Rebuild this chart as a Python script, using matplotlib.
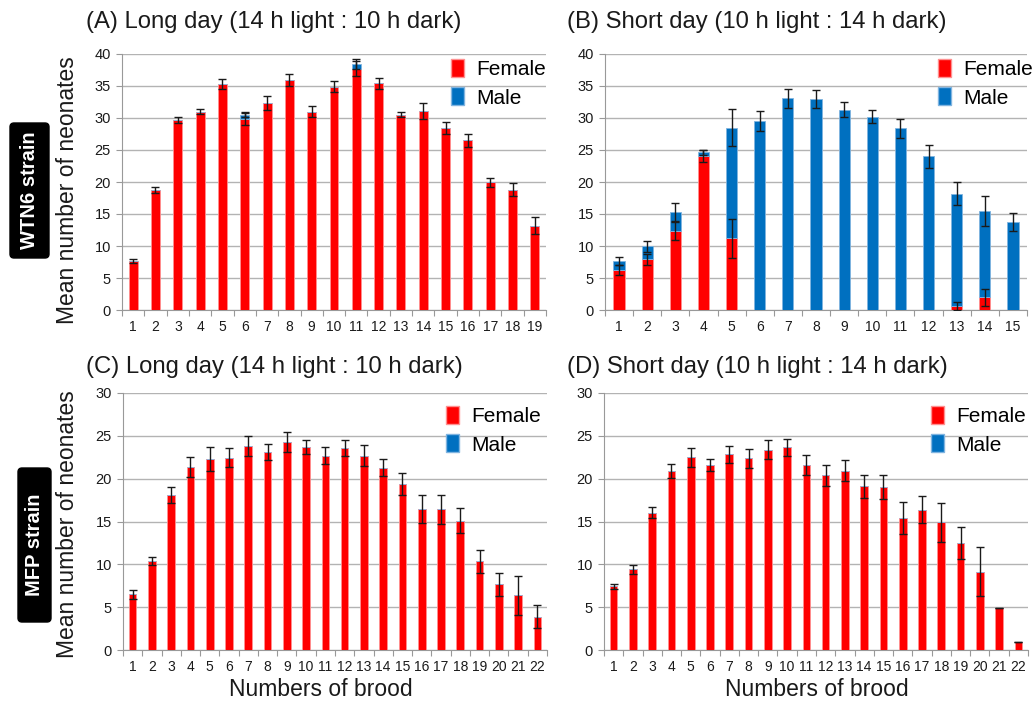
import matplotlib
matplotlib.use('Agg')
import matplotlib.pyplot as plt
import numpy as np
from matplotlib.patches import Patch, FancyBboxPatch

plt.rcParams['font.family'] = ['Liberation Sans', 'DejaVu Sans']

RED = '#FF0000'
BLUE = '#0070C0'
GRID = '#B3B3B3'

# ---------------- data ----------------
# (A) WTN6, long day
a_female = [7.7, 18.75, 29.7, 31.0, 35.3, 29.9, 32.4, 35.9, 31.0, 34.9,
            37.7, 35.4, 30.5, 31.1, 28.4, 26.5, 19.95, 18.8, 13.2]
a_female_err = [0.3, 0.45, 0.5, 0.4, 0.75, 1.0, 1.1, 0.9, 0.8, 0.9,
                1.2, 0.85, 0.4, 1.3, 0.9, 1.0, 0.7, 1.0, 1.4]
a_male = [0, 0, 0, 0, 0, 0.6, 0, 0, 0, 0,
          0.7, 0, 0, 0, 0, 0, 0, 0, 0]
a_male_err = [0, 0, 0, 0, 0, 0.3, 0, 0, 0, 0,
              0.8, 0, 0, 0, 0, 0, 0, 0, 0]

# (B) WTN6, short day
b_female = [6.2, 7.9, 12.35, 24.0, 11.2, 0, 0, 0, 0, 0, 0, 0, 0.6, 2.0, 0]
b_female_err = [0.8, 0.9, 1.4, 0.95, 3.05, 0, 0, 0, 0, 0, 0, 0, 0.6, 1.3, 0]
b_male = [1.45, 2.05, 2.9, 0.65, 17.3, 29.5, 33.1, 32.95, 31.3, 30.2,
          28.4, 24.0, 17.6, 13.5, 13.7]
b_male_err = [0.65, 0.9, 1.4, 0.4, 2.85, 1.6, 1.5, 1.4, 1.2, 1.05,
              1.5, 1.75, 1.75, 2.35, 1.4]

# (C) MFP, long day
c_female = [6.5, 10.4, 18.1, 21.35, 22.3, 22.45, 23.8, 23.1, 24.3, 23.7, 22.7,
            23.6, 22.7, 21.3, 19.4, 16.45, 16.45, 15.1, 10.35, 7.65, 6.37, 3.9]
c_female_err = [0.5, 0.5, 0.9, 1.2, 1.35, 1.1, 1.15, 0.9, 1.2, 0.85, 0.95,
                0.9, 1.2, 1.0, 1.25, 1.6, 1.7, 1.45, 1.35, 1.35, 2.25, 1.35]
c_male = [0] * 22
c_male_err = [0] * 22

# (D) MFP, short day
d_female = [7.45, 9.4, 16.05, 20.9, 22.5, 21.6, 22.85, 22.4, 23.4, 23.65, 21.6,
            20.4, 20.95, 19.1, 19.05, 15.4, 16.4, 14.9, 12.45, 9.15, 4.95, 0.95]
d_female_err = [0.3, 0.5, 0.65, 0.8, 1.1, 0.7, 1.0, 1.1, 1.15, 0.95, 1.15,
                1.25, 1.2, 1.35, 1.4, 1.9, 1.55, 2.25, 1.85, 2.85, 0.0, 0.0]
d_male = [0] * 22
d_male_err = [0] * 22

titles = ['(A) Long day (14 h light : 10 h dark)',
          '(B) Short day (10 h light : 14 h dark)',
          '(C) Long day (14 h light : 10 h dark)',
          '(D) Short day (10 h light : 14 h dark)']
legend_labels = ['Female', 'Male']
strain_labels = ['WTN6 strain', 'MFP strain']
ylabel = 'Mean number of neonates'
xlabel = 'Numbers of brood'

# ---------------- layout ----------------
W, H = 1035, 706
fig = plt.figure(figsize=(W / 100, H / 100), dpi=100)


def add_ax(l, t, r, b):
    return fig.add_axes([l / W, 1 - b / H, (r - l) / W, (b - t) / H])


def draw(ax, female, ferr, male, merr, ymax, leg_xy):
    n = len(female)
    x = np.arange(1, n + 1)
    female = np.array(female, float)
    male = np.array(male, float)
    ax.bar(x, female, width=0.4, color=RED, edgecolor='#FF9090',
           linewidth=0.6, zorder=3)
    ax.bar(x, male, bottom=female, width=0.4, color=BLUE,
           edgecolor='#80B4E0', linewidth=0.6, zorder=3)
    for xi, f, fe, m, me in zip(x, female, ferr, male, merr):
        if f > 0:
            ax.errorbar(xi, f, yerr=fe, fmt='none', ecolor='#1a1a1a',
                        elinewidth=1, capsize=2.8, capthick=1, zorder=4)
        if m > 0:
            ax.errorbar(xi, f + m, yerr=me, fmt='none', ecolor='#1a1a1a',
                        elinewidth=1, capsize=2.8, capthick=1, zorder=4)
    ax.set_xlim(0.5, n + 0.5)
    ax.set_ylim(0, ymax)
    ax.set_yticks(np.arange(0, ymax + 1, 5))
    ax.set_xticks(x)
    ax.set_xticklabels([str(i) for i in x])
    ax.set_xticks(np.arange(0.5, n + 1, 1), minor=True)
    ax.tick_params(axis='x', which='major', length=0, pad=7,
                   labelsize=10, colors='#1a1a1a')
    ax.tick_params(axis='x', which='minor', length=4, color='#999999',
                   width=0.8)
    ax.tick_params(axis='y', length=4, color='#999999', width=0.8,
                   labelsize=10.5, labelcolor='#1a1a1a', pad=4)
    ax.grid(axis='y', color=GRID, linewidth=1, zorder=0)
    ax.set_axisbelow(True)
    for s in ['top', 'right']:
        ax.spines[s].set_visible(False)
    for s in ['left', 'bottom']:
        ax.spines[s].set_color('#999999')
        ax.spines[s].set_linewidth(0.8)
    handles = [Patch(facecolor=RED, edgecolor='#FF9090'),
               Patch(facecolor=BLUE, edgecolor='#80B4E0')]
    ax.legend(handles, legend_labels, loc='upper left',
              bbox_to_anchor=(leg_xy[0] / W, 1 - leg_xy[1] / H),
              bbox_transform=fig.transFigure, frameon=False,
              fontsize=15, handlelength=0.6, handleheight=0.95,
              handletextpad=0.6, labelspacing=0.4, borderpad=0,
              borderaxespad=0)


axA = add_ax(122, 54, 546, 310)
axB = add_ax(605, 54, 1027, 310)
axC = add_ax(123, 393, 547, 650)
axD = add_ax(604, 393, 1028, 650)

draw(axA, a_female, a_female_err, a_male, a_male_err, 40, (451, 59))
draw(axB, b_female, b_female_err, b_male, b_male_err, 40, (938, 59))
draw(axC, c_female, c_female_err, c_male, c_male_err, 30, (446, 406))
draw(axD, d_female, d_female_err, d_male, d_male_err, 30, (931, 406))

# titles
for (tx, ty), t in zip([(86, 22), (567, 22), (86, 367), (567, 367)], titles):
    fig.text(tx / W, 1 - ty / H, t, fontsize=17.2, ha='left', va='center',
             color='#1a1a1a')

# y labels
for cy in [190, 524]:
    fig.text(68 / W, 1 - cy / H, ylabel, rotation=90, fontsize=16.5,
             ha='center', va='center', color='#1a1a1a')

# x labels
for cx in [321, 817]:
    fig.text(cx / W, 1 - 690 / H, xlabel, fontsize=16.5, ha='center',
             va='center', color='#1a1a1a')

# strain labels (black rounded boxes, pixel geometry -> inches)
for (x0, y0, x1, y1), s in zip([(10, 123, 49, 258), (18, 468, 51, 622)],
                               strain_labels):
    box = FancyBboxPatch((x0 / 100, (H - y1) / 100), (x1 - x0) / 100,
                         (y1 - y0) / 100,
                         boxstyle='round,pad=0,rounding_size=0.04',
                         transform=fig.dpi_scale_trans, fc='black',
                         ec='black', zorder=5)
    fig.add_artist(box)
    fig.text(((x0 + x1) / 2) / W, 1 - ((y0 + y1) / 2) / H, s, rotation=90,
             fontsize=14.5, fontweight='bold', color='white', ha='center',
             va='center', zorder=6)

fig.savefig('out.png', dpi=100, facecolor='white')
